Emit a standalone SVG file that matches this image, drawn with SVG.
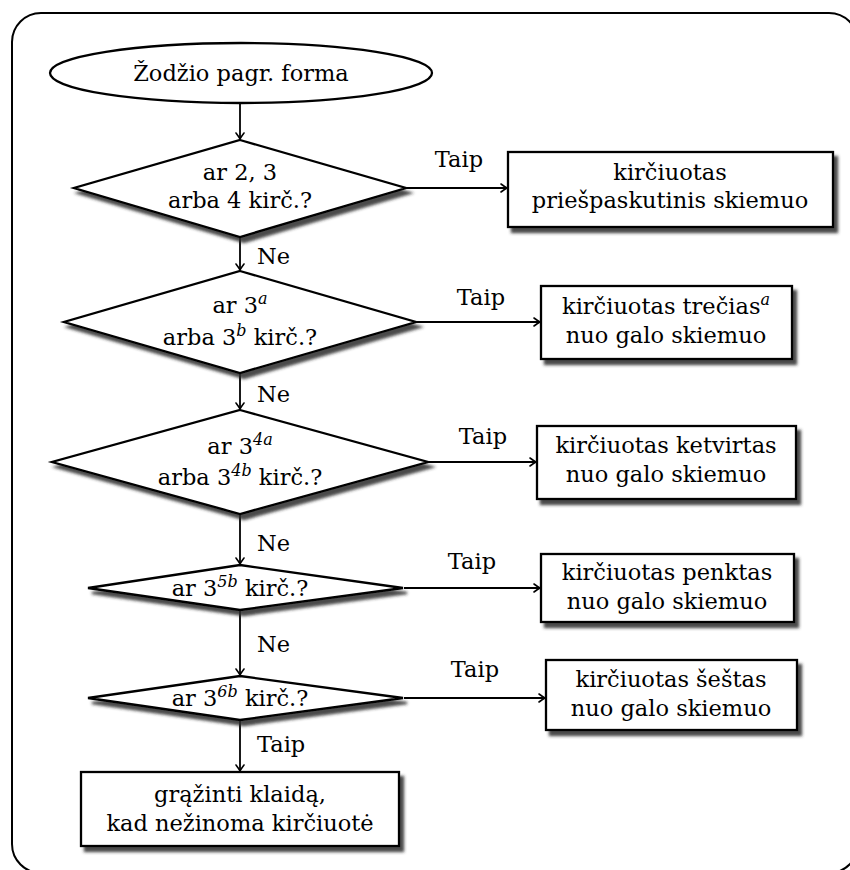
<svg xmlns="http://www.w3.org/2000/svg" width="850" height="870" viewBox="0 0 850 870">
  <style>
    .shape { fill: #ffffff; stroke: #000000; stroke-width: 2.3; }
    .edge { fill: none; stroke: #000000; stroke-width: 1.8; }
    .lbl { font-family: "DejaVu Serif", "Liberation Serif", serif; font-size: 22.5px; fill: #000000; }
    .mid { text-anchor: middle; }
    .sup { font-size: 16px; font-style: italic; }
  </style>
  <defs>
    <filter id="dropShadow" x="-10%" y="-20%" width="130%" height="150%">
      <feOffset in="SourceAlpha" dx="4" dy="4.5" result="off"/>
      <feGaussianBlur in="off" stdDeviation="1.8" result="blur"/>
      <feFlood flood-color="#2a2a2a" flood-opacity="0.85"/>
      <feComposite in2="blur" operator="in" result="shadow"/>
      <feMerge>
        <feMergeNode in="shadow"/>
        <feMergeNode in="SourceGraphic"/>
      </feMerge>
    </filter>
    <marker id="tip" markerUnits="userSpaceOnUse" markerWidth="14" markerHeight="12" viewBox="-8 -6 10 12" refX="0" refY="0" orient="auto">
      <path d="M -6,-4 Q -2,-1 0,0 Q -2,1 -6,4" fill="none" stroke="#000000" stroke-width="1.6" stroke-linecap="round"/>
    </marker>
  </defs>

  <!-- outer frame -->
  <rect x="12" y="13" width="846" height="860" rx="29" ry="29" fill="none" stroke="#000000" stroke-width="2"/>

  <!-- connectors -->
  <g id="connectors">
    <line class="edge" x1="240" y1="103" x2="240" y2="139" marker-end="url(#tip)"/>
    <line class="edge" x1="240" y1="238" x2="240" y2="270" marker-end="url(#tip)"/>
    <line class="edge" x1="240" y1="374" x2="240" y2="409" marker-end="url(#tip)"/>
    <line class="edge" x1="240" y1="515" x2="240" y2="564" marker-end="url(#tip)"/>
    <line class="edge" x1="240" y1="611" x2="240" y2="675" marker-end="url(#tip)"/>
    <line class="edge" x1="240" y1="721" x2="240" y2="771" marker-end="url(#tip)"/>

    <line class="edge" x1="407" y1="188" x2="507" y2="188" marker-end="url(#tip)"/>
    <line class="edge" x1="417" y1="322" x2="540" y2="322" marker-end="url(#tip)"/>
    <line class="edge" x1="429" y1="462" x2="536" y2="462" marker-end="url(#tip)"/>
    <line class="edge" x1="404" y1="588" x2="540" y2="588" marker-end="url(#tip)"/>
    <line class="edge" x1="404" y1="698" x2="545" y2="698" marker-end="url(#tip)"/>

    <text class="lbl" x="257" y="264">Ne</text>
    <text class="lbl" x="257" y="402">Ne</text>
    <text class="lbl" x="257" y="551">Ne</text>
    <text class="lbl" x="257" y="652">Ne</text>
    <text class="lbl" x="257" y="752">Taip</text>

    <text class="lbl mid" x="459" y="167">Taip</text>
    <text class="lbl mid" x="481" y="305">Taip</text>
    <text class="lbl mid" x="483" y="444">Taip</text>
    <text class="lbl mid" x="472" y="569">Taip</text>
    <text class="lbl mid" x="475" y="677">Taip</text>
  </g>

  <!-- start -->
  <g id="start">
    <ellipse class="shape" cx="241" cy="73" rx="191" ry="30"/>
    <text class="lbl mid" x="241" y="81">Žodžio pagr. forma</text>
  </g>

  <!-- decisions -->
  <g id="q234">
    <polygon class="shape" filter="url(#dropShadow)" points="240,140 406,188 240,237 74,188"/>
    <text class="lbl mid" x="240" y="180">ar 2, 3</text>
    <text class="lbl mid" x="240" y="208">arba 4 kirč.?</text>
  </g>

  <g id="q3">
    <polygon class="shape" filter="url(#dropShadow)" points="240,271 416,322 240,373 64,322"/>
    <text class="lbl mid" x="240" y="313">ar 3<tspan class="sup" dy="-9">a</tspan></text>
    <text class="lbl mid" x="240" y="345">arba 3<tspan class="sup" dy="-9">b</tspan><tspan dy="9"> kirč.?</tspan></text>
  </g>

  <g id="q4">
    <polygon class="shape" filter="url(#dropShadow)" points="240,410 428,462 240,514 52,462"/>
    <text class="lbl mid" x="240" y="454">ar 3<tspan class="sup" dy="-9">4a</tspan></text>
    <text class="lbl mid" x="240" y="485">arba 3<tspan class="sup" dy="-9">4b</tspan><tspan dy="9"> kirč.?</tspan></text>
  </g>

  <g id="q5">
    <polygon class="shape" filter="url(#dropShadow)" points="240,565 403,588 240,610 88,588"/>
    <text class="lbl mid" x="240" y="596">ar 3<tspan class="sup" dy="-9">5b</tspan><tspan dy="9"> kirč.?</tspan></text>
  </g>

  <g id="q6">
    <polygon class="shape" filter="url(#dropShadow)" points="240,676 403,698 240,720 88,698"/>
    <text class="lbl mid" x="240" y="706">ar 3<tspan class="sup" dy="-9">6b</tspan><tspan dy="9"> kirč.?</tspan></text>
  </g>

  <!-- results -->
  <g id="r2">
    <rect class="shape" filter="url(#dropShadow)" x="508" y="152" width="325" height="75"/>
    <text class="lbl mid" x="670" y="180">kirčiuotas</text>
    <text class="lbl mid" x="670" y="208">priešpaskutinis skiemuo</text>
  </g>

  <g id="r3">
    <rect class="shape" filter="url(#dropShadow)" x="541" y="286" width="251" height="73"/>
    <text class="lbl mid" x="666" y="314">kirčiuotas trečias<tspan class="sup" dy="-9">a</tspan></text>
    <text class="lbl mid" x="666" y="343">nuo galo skiemuo</text>
  </g>

  <g id="r4">
    <rect class="shape" filter="url(#dropShadow)" x="537" y="426" width="259" height="73"/>
    <text class="lbl mid" x="666" y="453">kirčiuotas ketvirtas</text>
    <text class="lbl mid" x="666" y="482">nuo galo skiemuo</text>
  </g>

  <g id="r5">
    <rect class="shape" filter="url(#dropShadow)" x="541" y="554" width="253" height="68"/>
    <text class="lbl mid" x="667" y="580">kirčiuotas penktas</text>
    <text class="lbl mid" x="667" y="609">nuo galo skiemuo</text>
  </g>

  <g id="r6">
    <rect class="shape" filter="url(#dropShadow)" x="546" y="660" width="251" height="70"/>
    <text class="lbl mid" x="671" y="687">kirčiuotas šeštas</text>
    <text class="lbl mid" x="671" y="716">nuo galo skiemuo</text>
  </g>

  <g id="error">
    <rect class="shape" filter="url(#dropShadow)" x="81" y="772" width="318" height="74"/>
    <text class="lbl mid" x="240" y="802">grąžinti klaidą,</text>
    <text class="lbl mid" x="240" y="831">kad nežinoma kirčiuotė</text>
  </g>
</svg>
